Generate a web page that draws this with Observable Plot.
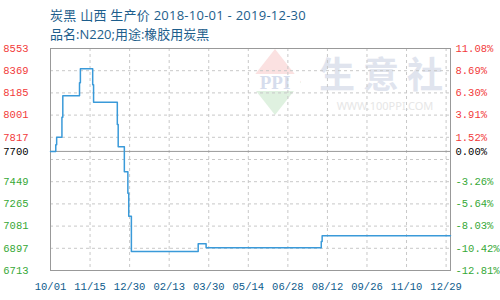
<!DOCTYPE html>
<html>
<head>
<meta charset="utf-8">
<script src="https://cdn.jsdelivr.net/npm/d3@7"></script>
<script src="https://cdn.jsdelivr.net/npm/@observablehq/plot@0.6"></script>
<style>
  body { margin: 0; background: #fff; }
  #wrap { position: relative; width: 500px; height: 300px; overflow: hidden; font-family: "Open Sans", "Noto Sans CJK SC", sans-serif; }
  #title { position: absolute; left: 50px; top: 6px; font-size: 13px; line-height: 19px; color: #1d5e8c; white-space: nowrap; }
  #title .l1 { letter-spacing: 0.25px; }
  #wm { position: absolute; left: 0; top: 0; z-index: 0; }
  #chart { position: absolute; left: 0; top: 42px; z-index: 1; }
</style>
</head>
<body>
<div id="wrap">
  <svg id="wm" width="500" height="300">
    <polygon points="249,82 275,49 301,82" fill="#fbe1e1"/>
    <polygon points="249,82 275,115 301,82" fill="#dff1e0"/>
    <rect x="250" y="74" width="50" height="17" fill="#ffffff"/>
    <text x="275" y="89" text-anchor="middle" font-family="Liberation Serif, serif" font-weight="bold" font-size="19" fill="#d6dded">PPI</text>
    <text x="385" y="88" text-anchor="middle" font-family="Noto Sans CJK SC" font-weight="bold" font-size="36" letter-spacing="8" fill="#e0e4ee">生意社</text>
    <text x="385" y="110" text-anchor="middle" font-family="Noto Sans, sans-serif" font-size="11" fill="#e6e6e6">WWW.100PPI.COM</text>
  </svg>
  <div id="title"><span class="l1">炭黑 山西 生产价 2018-10-01 - 2019-12-30</span><br>品名:N220;用途:橡胶用炭黑</div>
  <div id="chart"></div>
</div>
<script>
// Price series (change points)
const dates = ["2018-10-01","2018-10-07","2018-10-08","2018-10-14","2018-10-15","2018-11-03","2018-11-04","2018-11-18","2018-11-19","2018-12-16","2018-12-17","2018-12-24","2018-12-28","2018-12-29","2019-01-01","2019-03-18","2019-03-27","2019-08-05","2019-08-06","2019-12-30"];
const prices = [7700,7755,7817,7984,8161,8269,8385,8252,8108,7923,7738,7531,7354,7163,6870,6934,6901,6953,7001,7001];

const basePrice = 7700;
const gridValues = [8553,8369,8185,8001,7817,7633,7449,7265,7081,6897,6713];
const redTicks = [8553,8369,8185,8001,7817];
const greenTicks = [7449,7265,7081,6897,6713];
const rightLabelsRed = ["11.08%","8.69%","6.30%","3.91%","1.52%"];
const rightLabelsGreen = ["-3.26%","-5.64%","-8.03%","-10.42%","-12.81%"];
const baseRightLabel = "0.00%";

const xTickDates = ["2018-10-01","2018-11-15","2018-12-30","2019-02-13","2019-03-30","2019-05-14","2019-06-28","2019-08-12","2019-09-26","2019-11-10","2019-12-25"];
const xTickLabels = ["10/01","11/15","12/30","02/13","03/30","05/14","06/28","08/12","09/26","11/10","12/29"];
const xDomain = ["2018-10-01","2019-12-30"];

const parse = d3.utcParse("%Y-%m-%d");
const data = dates.map((d, i) => ({date: parse(d), price: prices[i]}));
const xTicks = xTickDates.map(parse);
const xLabelOf = new Map(xTicks.map((t, i) => [+t, xTickLabels[i]]));
const rightLabelOf = new Map([
  ...redTicks.map((v, i) => [v, rightLabelsRed[i]]),
  ...greenTicks.map((v, i) => [v, rightLabelsGreen[i]]),
  [basePrice, baseRightLabel]
]);

const RED = "#f23a3a", GREEN = "#36a836", BLACK = "#000000", BLUE = "#0d5b8c";
const tickFont = {fontFamily: "Liberation Mono", fontSize: 10.5};

const axisL = (ticks, color) => Plot.axisY({anchor: "left", ticks, tickSize: 0, tickPadding: 22, tickFormat: d => String(d), fill: color, ...tickFont, label: null});
const axisR = (ticks, color) => Plot.axisY({anchor: "right", ticks, tickSize: 0, tickPadding: 5, tickFormat: d => rightLabelOf.get(d), fill: color, ...tickFont, label: null});

const chart = Plot.plot({
  width: 500,
  height: 258,
  marginTop: 6,
  marginBottom: 30,
  marginLeft: 50,
  marginRight: 50,
  style: {background: "transparent", overflow: "visible"},
  x: {type: "utc", domain: xDomain.map(parse)},
  y: {domain: [6713, 8553]},
  marks: [
    Plot.gridY(gridValues, {stroke: "#c8c8c8", strokeOpacity: 1, strokeDasharray: "3,3"}),
    Plot.gridX(xTicks, {stroke: "#c8c8c8", strokeOpacity: 1, strokeDasharray: "3,3"}),
    Plot.ruleY([basePrice], {stroke: "#999999", strokeWidth: 1}),
    Plot.frame({stroke: "#999999"}),
    Plot.line(data, {x: "date", y: "price", curve: "step-after", stroke: "#3a9ad9", strokeWidth: 1.5}),
    axisL(redTicks, RED),
    axisL([basePrice], BLACK),
    axisL(greenTicks, GREEN),
    axisR(redTicks, RED),
    axisR([basePrice], BLACK),
    axisR(greenTicks, GREEN),
    Plot.axisX({ticks: xTicks, tickSize: 0, tickPadding: 12, tickFormat: d => xLabelOf.get(+d), fill: BLUE, ...tickFont, label: null})
  ]
});
document.getElementById("chart").appendChild(chart);
</script>
</body>
</html>
